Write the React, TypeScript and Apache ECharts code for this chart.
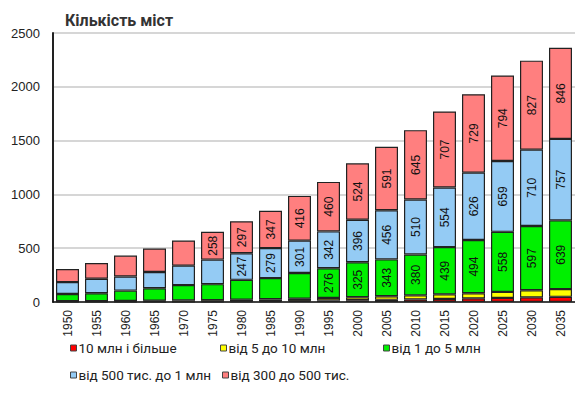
import React, { useEffect, useRef } from "react";
import * as echarts from "echarts";

const years = ["1950","1955","1960","1965","1970","1975","1980","1985","1990","1995","2000","2005","2010","2015","2020","2025","2030","2035"];
const over10m = [2, 2, 3, 3, 3, 4, 5, 7, 10, 14, 16, 20, 24, 28, 34, 38, 43, 48];
const from5to10m = [5, 6, 7, 9, 12, 13, 16, 18, 21, 24, 28, 33, 38, 43, 48, 56, 66, 72];
const from1to5m = [68, 74, 96, 116, 142, 149, 185, 197, 238, 276, 325, 343, 380, 439, 494, 558, 597, 639];
const from500kto1m = [110, 134, 131, 151, 181, 228, 247, 279, 301, 342, 396, 456, 510, 554, 626, 659, 710, 757];
const from300to500k = [122, 147, 194, 218, 234, 258, 297, 347, 416, 460, 524, 591, 645, 707, 729, 794, 827, 846];
const yTicks = [0, 500, 1000, 1500, 2000, 2500];

const seriesNames = [
  "10 млн і більше",
  "від 5 до 10 млн",
  "від 1 до 5 млн",
  "від 500 тис. до 1 млн",
  "від 300 до 500 тис.",
];
const seriesData = [over10m, from5to10m, from1to5m, from500kto1m, from300to500k];
const seriesColors = ["#ff0000", "#ffff00", "#00f000", "#94cbf4", "#ff7f7f"];
// first index at which a value label is shown (-1 = never)
const labelStart = [-1, -1, 9, 6, 5];

const condensed = "Roboto, 'Noto Sans', sans-serif";

export default function App() {
  const ref = useRef<HTMLDivElement>(null);
  useEffect(() => {
    if (!ref.current) return;
    const chart = echarts.init(ref.current, null, { renderer: "svg" });
    const legendPos = [
      { left: 70, top: 341 },
      { left: 220, top: 341 },
      { left: 383, top: 341 },
      { left: 70, top: 368 },
      { left: 222, top: 368 },
    ];
    chart.setOption({
      animation: false,
      backgroundColor: "#ffffff",
      title: {
        text: "Кількість міст",
        left: 60,
        top: 7,
        textStyle: {
          fontFamily: condensed,
          fontSize: 16,
          fontWeight: "bold",
          color: "#333",
        },
      },
      legend: seriesNames.map((n, i) => ({
        data: [n],
        left: legendPos[i].left,
        top: legendPos[i].top,
        icon: "rect",
        itemWidth: 6,
        itemHeight: 6,
        itemGap: 4,
        padding: 0,
        selectedMode: false,
        itemStyle: { borderColor: "#444", borderWidth: 1 },
        textStyle: {
          fontFamily: condensed,
          fontSize: 13.5,
          color: "#222",
          padding: [0, 0, 0, -3],
        },
      })),
      grid: { left: 53, right: 0, top: 33, bottom: 107 },
      xAxis: {
        type: "category",
        data: years,
        axisLine: { lineStyle: { color: "#111", width: 1.5 } },
        axisTick: { show: false },
        axisLabel: {
          rotate: 90,
          fontFamily: "Liberation Sans, Arial, sans-serif",
          fontSize: 12,
          color: "#222",
          margin: 8,
        },
      },
      yAxis: {
        type: "value",
        min: yTicks[0],
        max: yTicks[yTicks.length - 1],
        interval: 500,
        axisLine: { show: true, lineStyle: { color: "#222", width: 2 } },
        axisTick: { show: false },
        axisLabel: {
          fontFamily: "Liberation Sans, Arial, sans-serif",
          fontSize: 13,
          color: "#222",
          margin: 13,
          formatter: (v: number) => String(v),
        },
        splitLine: { lineStyle: { color: "#c8c8c8", width: 1.5 } },
      },
      series: seriesData.map((arr, si) => ({
        name: seriesNames[si],
        type: "bar",
        stack: "total",
        barWidth: 23,
        itemStyle: { color: seriesColors[si], borderColor: "#222", borderWidth: 1.2 },
        label: {
          position: "inside",
          rotate: 90,
          fontFamily: "Liberation Sans, Arial, sans-serif",
          fontSize: 12,
          color: "#111",
        },
        data: arr.map((v, i) => ({
          value: v,
          label: { show: labelStart[si] >= 0 && i >= labelStart[si] },
        })),
      })),
    });
    return () => chart.dispose();
  }, []);
  return (
    <div
      ref={ref}
      style={{ position: "fixed", left: 0, top: 0, width: 575, height: 409 }}
    />
  );
}
